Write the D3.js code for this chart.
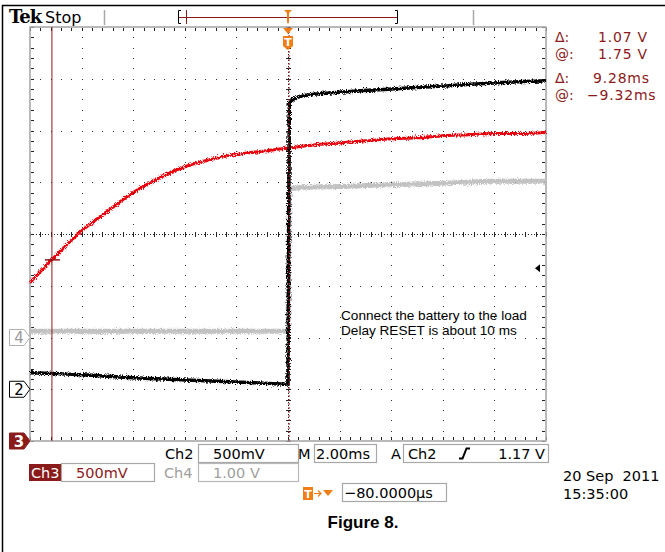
<!DOCTYPE html>
<html>
<head>
<meta charset="utf-8">
<style>
body { margin: 0; background: #fff; }
svg { display: block; font-family: "DejaVu Sans", Verdana, sans-serif; }
</style>
</head>
<body>
<svg width="665" height="552"></svg>
<script src="https://d3js.org/d3.v7.min.js"></script>
<script>

// channel traces (time in ms, level in volts)
var ch3Time  = [-10, -9, -8, -7, -6, -5, -4, -3, -2, -1, 0, 1, 2, 3, 4, 5, 6, 7, 8, 9, 10];
var ch3Volts = [1.53, 1.79, 2.03, 2.22, 2.40, 2.54, 2.65, 2.72, 2.77, 2.80, 2.83, 2.86, 2.88, 2.90, 2.92, 2.93, 2.95, 2.96, 2.97, 2.97, 2.98];

var ch2Time  = [-10, -8, -6, -4, -2, 0, 0.05, 0.2, 0.5, 1, 2, 4, 6, 8, 10];
var ch2Volts = [0.16, 0.14, 0.11, 0.09, 0.07, 0.05, 2.76, 2.80, 2.83, 2.85, 2.87, 2.90, 2.93, 2.96, 2.98];

var ch4Time  = [-10, -5, 0, 0.05, 2, 4, 6, 8, 10];
var ch4Volts = [0.12, 0.12, 0.12, 2.88, 2.92, 2.95, 2.98, 3.02, 3.02];

// volts per division and ground position (divisions from centre)
var chScale  = {2: 0.5, 3: 0.5, 4: 1.0};
var chOffset = {2: -3, 3: -4, 4: -2};

var triggerLevel = 1.17;   // on ch2
var cursorTimes = [-9.15, 0.04];
var cursorLevel = 1.75;    // on ch3

var readLabels = ["\u0394:", "@:", "\u0394:", "@:"];
var readValues = ["1.07 V", "1.75 V", "9.28ms", "\u22129.32ms"];

var svg = d3.select("svg");
var darkRed = "#8b1a1a", orange = "#f07d16";

var x = d3.scaleLinear().domain([-10, 10]).range([30, 546]);
var yDiv = d3.scaleLinear().domain([-4, 4]).range([441, 27]);
function yCh(ch, v) { return yDiv(v / chScale[ch] + chOffset[ch]); }

// noise filter so traces look like scope traces
var defs = svg.append("defs");
var filt = defs.append("filter").attr("id", "noise")
    .attr("filterUnits", "userSpaceOnUse")
    .attr("x", 0).attr("y", 0).attr("width", 665).attr("height", 552);
filt.append("feTurbulence").attr("type", "fractalNoise")
    .attr("baseFrequency", "1.2 0.9").attr("numOctaves", 2).attr("seed", 3).attr("result", "t");
filt.append("feDisplacementMap").attr("in", "SourceGraphic").attr("in2", "t")
    .attr("scale", 5).attr("xChannelSelector", "R").attr("yChannelSelector", "G");

// outer figure frame
svg.append("path").attr("d", "M2.5,552 V5.5 H665").attr("fill", "none").attr("stroke", "#000").attr("stroke-width", 1.5);

// ---- graticule ----
var g = svg.append("g");
var minorT = d3.range(-10, 10.001, 0.4);
var minorD = d3.range(-4, 4.001, 0.2);
var majorT = d3.range(-8, 8.001, 2);
var majorD = d3.range(-3, 3.001, 1);

// dots on grid lines
majorD.forEach(function(d) {
  g.selectAll(null).data(minorT.slice(1, -1)).enter().append("rect")
    .attr("x", function(t) { return Math.round(x(t)); })
    .attr("y", Math.round(yDiv(d)))
    .attr("width", 1).attr("height", 1).attr("fill", "#333");
});
majorT.forEach(function(t) {
  g.selectAll(null).data(minorD.slice(1, -1)).enter().append("rect")
    .attr("x", Math.round(x(t)))
    .attr("y", function(d) { return Math.round(yDiv(d)); })
    .attr("width", 1).attr("height", 1).attr("fill", "#333");
});

// centre crosshair
g.append("line").attr("x1", 30).attr("x2", 546).attr("y1", yDiv(0) + 0.5).attr("y2", yDiv(0) + 0.5)
  .attr("stroke", "#222").attr("stroke-dasharray", "1,2");
g.append("line").attr("y1", 27).attr("y2", 441).attr("x1", x(0) + 0.5).attr("x2", x(0) + 0.5)
  .attr("stroke", "#222").attr("stroke-dasharray", "1,2");
g.selectAll(null).data(minorT).enter().append("line")
  .attr("x1", function(t) { return Math.round(x(t)) + 0.5; })
  .attr("x2", function(t) { return Math.round(x(t)) + 0.5; })
  .attr("y1", yDiv(0) - 2).attr("y2", yDiv(0) + 3).attr("stroke", "#222");
g.selectAll(null).data(minorD).enter().append("line")
  .attr("y1", function(d) { return Math.round(yDiv(d)) + 0.5; })
  .attr("y2", function(d) { return Math.round(yDiv(d)) + 0.5; })
  .attr("x1", x(0) - 2).attr("x2", x(0) + 3).attr("stroke", "#222");

// edge ticks
g.selectAll(null).data(minorT).enter().append("path")
  .attr("d", function(t) {
    var px = Math.round(x(t)) + 0.5;
    return "M" + px + ",28V31M" + px + ",440V437";
  }).attr("stroke", "#222");
g.selectAll(null).data(minorD).enter().append("path")
  .attr("d", function(d) {
    var py = Math.round(yDiv(d)) + 0.5;
    return "M31," + py + "H34M545," + py + "H542";
  }).attr("stroke", "#222");

g.append("rect").attr("x", 30).attr("y", 27).attr("width", 516).attr("height", 414)
  .attr("fill", "none").attr("stroke", "#a8a8a8").attr("stroke-width", 1.6);

// ---- traces ----
var line = d3.line().curve(d3.curveMonotoneX);
function trace(ch, times, volts, color, w) {
  svg.append("path")
    .attr("d", line(times.map(function(t, i) { return [x(t), yCh(ch, volts[i])]; })))
    .attr("fill", "none").attr("stroke", color).attr("stroke-width", w)
    .attr("filter", "url(#noise)");
}
trace(4, ch4Time, ch4Volts, "#c2c2c2", 5);
trace(3, ch3Time, ch3Volts, "#e8000a", 3);
trace(2, ch2Time, ch2Volts, "#000", 3.5);

// cursors
cursorTimes.forEach(function(t, i) {
  svg.append("line").attr("x1", x(t)).attr("x2", x(t)).attr("y1", 27).attr("y2", 441)
    .attr("stroke", darkRed).attr("stroke-width", 1)
    .attr("stroke-dasharray", i ? "2,2" : null);
});
svg.append("line").attr("x1", x(cursorTimes[0]) - 7).attr("x2", x(cursorTimes[0]) + 8)
  .attr("y1", yCh(3, cursorLevel)).attr("y2", yCh(3, cursorLevel))
  .attr("stroke", darkRed).attr("stroke-width", 1.5);

// trigger level marker
var ty = yCh(2, triggerLevel);
svg.append("path").attr("d", "M535," + ty + "l5,-4v8z").attr("fill", "#000");

// trigger position marker
svg.append("path").attr("d", "M" + (x(0) - 5) + ",28h10l-5,6z").attr("fill", orange);
svg.append("path").attr("d", "M" + (x(0) - 5) + ",36h10v10l-5,4l-5,-4z").attr("fill", orange);
svg.append("text").attr("x", x(0)).attr("y", 46).attr("text-anchor", "middle")
  .attr("fill", "#fff").attr("font-size", 11).attr("font-weight", "bold").text("T");

// channel ground markers
function chMarker(ch, stroke, fill, txt) {
  var yy = yCh(ch, 0);
  svg.append("path")
    .attr("d", "M9.5," + (yy - 8) + "H24L30," + yy + "L24," + (yy + 8) + "H9.5Z")
    .attr("fill", fill).attr("stroke", stroke).attr("stroke-width", 1);
  svg.append("text").attr("x", 19).attr("y", yy + 5.5).attr("text-anchor", "middle")
    .attr("font-size", 15).attr("font-weight", ch === 3 ? "bold" : "normal")
    .attr("fill", txt).text(ch);
}
chMarker(4, "#b0b0b0", "#fff", "#9a9a9a");
chMarker(2, "#000", "#fff", "#000");
chMarker(3, darkRed, darkRed, "#fff");

// ---- top bar ----
svg.append("text").attr("x", 9).attr("y", 23).attr("font-family", "'DejaVu Serif', serif")
  .attr("font-weight", "bold").attr("font-size", 18).attr("letter-spacing", -1).text("Tek");
svg.append("text").attr("x", 45).attr("y", 23).attr("font-size", 16).text("Stop");
svg.append("line").attr("x1", 104.5).attr("x2", 104.5).attr("y1", 10).attr("y2", 25).attr("stroke", "#a8a8a8").attr("stroke-width", 1.5);
svg.append("line").attr("x1", 473.5).attr("x2", 473.5).attr("y1", 10).attr("y2", 25).attr("stroke", "#a8a8a8").attr("stroke-width", 1.5);
svg.append("path").attr("d", "M181,10.5H178.5V23.5H181M395,10.5H397.5V23.5H395").attr("fill", "none").attr("stroke", "#000");
svg.append("line").attr("x1", 179).attr("x2", 397).attr("y1", 17.5).attr("y2", 17.5).attr("stroke", darkRed);
svg.append("line").attr("x1", 186.5).attr("x2", 186.5).attr("y1", 10).attr("y2", 24).attr("stroke", darkRed);
svg.append("path").attr("d", "M284,10h8l-3,3v9l-1,2l-1,-2v-9z").attr("fill", orange);

// ---- cursor readouts ----
var ry = [42, 59, 83, 100];
var rx = [598, 598, 593, 587];
readLabels.forEach(function(l, i) {
  svg.append("text").attr("x", 555).attr("y", ry[i]).attr("fill", darkRed).attr("font-size", 14).text(l);
  svg.append("text").attr("x", rx[i]).attr("y", ry[i])
    .attr("fill", darkRed).attr("font-size", 14).attr("letter-spacing", 0.8).text(readValues[i]);
});

// ---- annotation ----
svg.append("text").attr("x", 341).attr("y", 320).attr("font-family", "'Liberation Sans', Arial, sans-serif")
  .attr("font-size", 13.6).text("Connect the battery to the load");
svg.append("text").attr("x", 341).attr("y", 335).attr("font-family", "'Liberation Sans', Arial, sans-serif")
  .attr("font-size", 13.6).text("Delay RESET is about 10 ms");

// ---- bottom settings ----
function box(x0, y0, w, h, stroke) {
  svg.append("rect").attr("x", x0 + 0.5).attr("y", y0 + 0.5).attr("width", w).attr("height", h)
    .attr("fill", "#fff").attr("stroke", stroke || "#a8a8a8").attr("stroke-width", 1.2);
}
function txt(x0, y0, s, color, anchor) {
  return svg.append("text").attr("x", x0).attr("y", y0).attr("font-size", 14.5)
    .attr("fill", color || "#000").attr("text-anchor", anchor || "start").text(s);
}
box(198, 444, 100, 18); box(314, 444, 62, 18); box(403, 444, 145, 18);
txt(165, 459, "Ch2"); txt(213, 459, "500mV"); txt(298, 459, "M"); txt(316, 459, "2.00ms");
txt(391, 459, "A"); txt(408, 459, "Ch2"); txt(545, 459, "1.17 V", "#000", "end");
svg.append("path").attr("d", "M459,458.5h3.5l4,-10h3.5").attr("fill", "none").attr("stroke", "#000").attr("stroke-width", 2);

svg.append("rect").attr("x", 29).attr("y", 464).attr("width", 32).attr("height", 17).attr("fill", darkRed);
txt(31, 478, "Ch3", "#fff");
box(61, 463, 93, 18);
txt(76, 478, "500mV", darkRed);
txt(164, 478, "Ch4", "#a0a0a0");
box(198, 463, 100, 18, "#b8b8b8");
txt(213, 478, "1.00 V", "#a0a0a0");

svg.append("rect").attr("x", 303).attr("y", 487).attr("width", 10).attr("height", 13).attr("fill", orange);
svg.append("text").attr("x", 308).attr("y", 498).attr("text-anchor", "middle").attr("fill", "#fff")
  .attr("font-size", 11).attr("font-weight", "bold").text("T");
svg.append("path").attr("d", "M314,493.5h7M318,490.5l3,3l-3,3").attr("fill", "none").attr("stroke", orange).attr("stroke-width", 1.2);
svg.append("path").attr("d", "M323,490h10l-5,6z").attr("fill", orange);
box(342, 483, 104, 18);
txt(344, 498, "\u221280.0000\u00b5s");

txt(563, 481, "20 Sep  2011").style("white-space", "pre");
txt(563, 499, "15:35:00");

svg.append("text").attr("x", 363).attr("y", 528).attr("text-anchor", "middle")
  .attr("font-family", "'Liberation Sans', Arial, sans-serif").attr("font-weight", "bold")
  .attr("font-size", 17).text("Figure 8.");
</script>
</body>
</html>
